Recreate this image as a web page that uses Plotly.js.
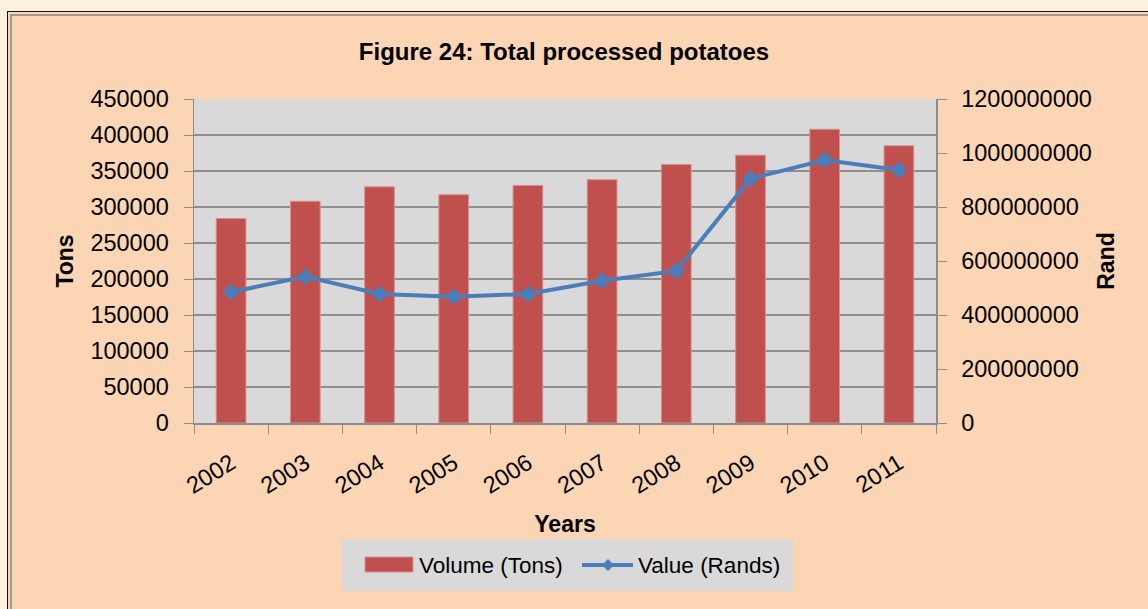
<!DOCTYPE html>
<html>
<head>
<meta charset="utf-8">
<script src="https://cdn.plot.ly/plotly-3.0.1.min.js"></script>
<style>
  html, body { margin:0; padding:0; width:1148px; height:609px; overflow:hidden; background:#fbf1dc; }
  #frame { position:absolute; left:7px; top:11px; width:1141px; height:598px; background:#fcd5b5;
           border-left:1px solid #111; border-top:1px solid #111; box-sizing:border-box; }
  #inner { position:absolute; left:2px; top:2px; right:0; bottom:0; border-left:2px solid #9a9a9a; border-top:2px solid #9a9a9a; }
  #chart { position:absolute; left:0; top:0; width:1148px; height:609px; }
</style>
</head>
<body>
<div id="frame"><div id="inner"></div></div>
<div id="chart"></div>
<script>
const years = ["2002","2003","2004","2005","2006","2007","2008","2009","2010","2011"];
const volumeTons = [284000, 308000, 328000, 317000, 330000, 338000, 359000, 372000, 408000, 385000];
const valueRands = [485000000, 542000000, 478000000, 468000000, 478000000, 527000000, 563000000, 905000000, 974000000, 937000000];
const leftTicks = [0,50000,100000,150000,200000,250000,300000,350000,400000,450000];
const rightTicks = [0,200000000,400000000,600000000,800000000,1000000000,1200000000];

const FONT = '"Liberation Sans Narrow", "Arial Narrow", "Liberation Sans", Arial, sans-serif';
const W = 1148, H = 609;
const L = 194, R = 936, T = 99, B = 423;
const px = x => (x - L) / (R - L);
const py = y => (B - y) / (B - T);
const TICK = 23.5;

const traces = [
  {
    type: 'bar', x: years, y: volumeTons, name: 'Volume (Tons)', yaxis: 'y',
    marker: { color: '#c0504d', line: { color: '#d58f8c', width: 1 } },
    showlegend: false, hoverinfo: 'x+y'
  },
  {
    type: 'scatter', mode: 'lines+markers', x: years, y: valueRands, name: 'Value (Rands)', yaxis: 'y2',
    line: { color: '#4a7ebb', width: 4 },
    marker: { symbol: 'diamond', size: 13, color: '#4a7ebb' },
    showlegend: false
  }
];

const layout = {
  width: W, height: H,
  paper_bgcolor: 'rgba(0,0,0,0)',
  plot_bgcolor: '#d9d9d9',
  margin: { l: L, r: W - R, t: T, b: H - B, pad: 0 },
  font: { family: FONT, size: TICK, color: '#000' },
  title: {
    text: '<b>Figure 24: Total processed potatoes</b>',
    font: { family: FONT, size: 24, color: '#000' },
    x: 564 / W, xref: 'container', xanchor: 'center',
    y: 1 - 52 / H, yref: 'container', yanchor: 'middle'
  },
  bargap: 0.6,
  xaxis: {
    type: 'category',
    range: [-0.5, 9.5],
    tickangle: -32,
    tickson: 'boundaries',
    ticks: 'outside', ticklen: 9, tickcolor: '#8c8c8c', tickwidth: 1,
    showline: true, linecolor: '#8c8c8c', linewidth: 1.5,
    showgrid: false,
    tickfont: { family: FONT, size: TICK },
    ticklabelstandoff: 16,
    title: { text: '<b>Years</b>', font: { family: FONT, size: 23 }, standoff: 18 },
    automargin: false
  },
  yaxis: {
    range: [0, 450000], tickvals: leftTicks, ticktext: leftTicks.map(String),
    ticks: 'outside', ticklen: 9, tickcolor: '#8c8c8c',
    showline: true, linecolor: '#8c8c8c', linewidth: 1.5,
    showgrid: true, gridcolor: '#8f8f8f', gridwidth: 1.5,
    zeroline: false,
    tickfont: { family: FONT, size: TICK },
    ticklabelstandoff: 10,
    title: { text: '<b>Tons</b>', font: { family: FONT, size: 23 }, standoff: 10 },
    automargin: false
  },
  yaxis2: {
    overlaying: 'y', side: 'right',
    range: [0, 1200000000], tickvals: rightTicks, ticktext: rightTicks.map(String),
    ticks: 'outside', ticklen: 9, tickcolor: '#8c8c8c',
    showline: true, linecolor: '#8c8c8c', linewidth: 1.5,
    showgrid: false, zeroline: false,
    tickfont: { family: FONT, size: TICK },
    ticklabelstandoff: 10,
    title: { text: '<b>Rand</b>', font: { family: FONT, size: 23 }, standoff: 7 },
    automargin: false
  },
  shapes: [
    { type: 'rect', xref: 'paper', yref: 'paper', x0: px(342), x1: px(793), y0: py(591), y1: py(539),
      fillcolor: '#d9d9d9', line: { width: 0 }, layer: 'below' },
    { type: 'rect', xref: 'paper', yref: 'paper', x0: px(365), x1: px(413), y0: py(572), y1: py(557),
      fillcolor: '#c0504d', line: { color: '#d58f8c', width: 1 } },
    { type: 'line', xref: 'paper', yref: 'paper', x0: px(582), x1: px(633), y0: py(565), y1: py(565),
      line: { color: '#4a7ebb', width: 4 } },
    { type: 'path', xref: 'paper', yref: 'paper',
      path: 'M ' + px(608) + ' ' + py(559) + ' L ' + px(614) + ' ' + py(565) + ' L ' + px(608) + ' ' + py(571) + ' L ' + px(602) + ' ' + py(565) + ' Z',
      fillcolor: '#4a7ebb', line: { width: 0 } }
  ],
  annotations: [
    { xref: 'paper', yref: 'paper', x: px(417), y: py(565), xanchor: 'left', yanchor: 'middle',
      text: 'Volume (Tons)', showarrow: false, font: { family: FONT, size: 22.5, color: '#000' } },
    { xref: 'paper', yref: 'paper', x: px(636), y: py(565), xanchor: 'left', yanchor: 'middle',
      text: 'Value (Rands)', showarrow: false, font: { family: FONT, size: 22.5, color: '#000' } }
  ]
};

Plotly.newPlot('chart', traces, layout, { displayModeBar: false, staticPlot: true });
</script>
</body>
</html>
